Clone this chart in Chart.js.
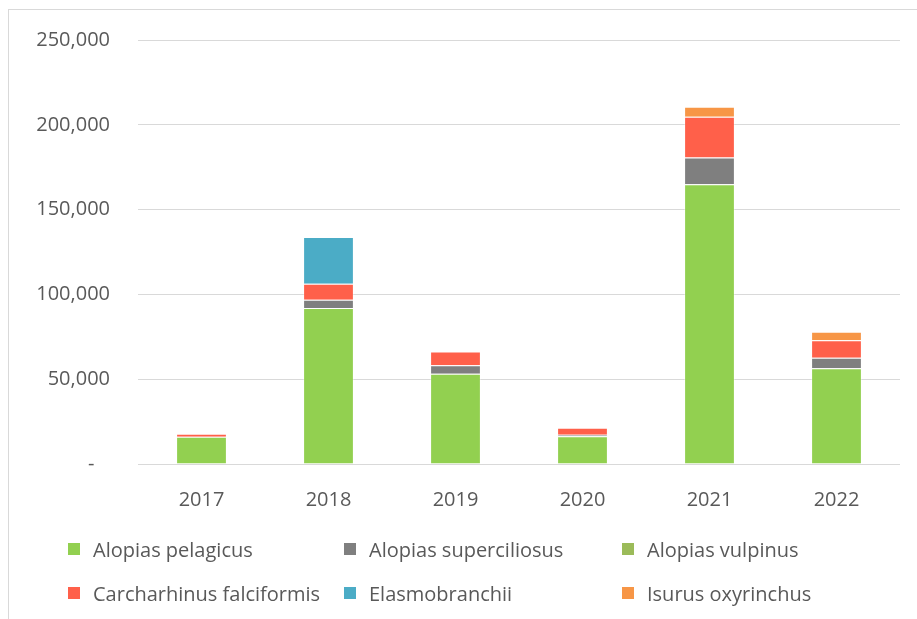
<!DOCTYPE html>
<html>
<head>
<meta charset="utf-8">
<script src="https://cdn.jsdelivr.net/npm/chart.js@4"></script>
<style>
  body { margin: 0; background: #fff; font-family: "Open Sans", sans-serif; }
  #frame { position: absolute; left: 8px; top: 9px; width: 930px; height: 640px; border: 1px solid #d9d9d9; }
  #wrap { position: absolute; left: 0; top: 0; width: 917px; height: 540px; }
  #legend { position: absolute; left: 0; top: 0; width: 917px; height: 619px; pointer-events: none; }
  .item { position: absolute; display: flex; align-items: center; font-size: 20px; color: #595959; white-space: nowrap; }
  .box { width: 12px; height: 12px; margin-right: 13px; }
</style>
</head>
<body>
<div id="frame"></div>
<div id="wrap"><canvas id="chart" width="917" height="540"></canvas></div>
<div id="legend"></div>
<script>
const years = ['2017', '2018', '2019', '2020', '2021', '2022'];
const alopiasPelagicus = [16000, 92000, 53200, 16300, 165000, 56400];
const alopiasSuperciliosus = [0, 4900, 5000, 1000, 15700, 6300];
const alopiasVulpinus = [0, 0, 0, 0, 0, 0];
const carcharhinusFalciformis = [1800, 9400, 8200, 4100, 24000, 10200];
const elasmobranchii = [0, 27500, 0, 0, 0, 0];
const isurusOxyrinchus = [0, 0, 0, 0, 5900, 5100];
const yTicks = [0, 50000, 100000, 150000, 200000, 250000];

const series = [
  { label: 'Alopias pelagicus', data: alopiasPelagicus, color: '#92d050' },
  { label: 'Alopias superciliosus', data: alopiasSuperciliosus, color: '#7f7f7f' },
  { label: 'Alopias vulpinus', data: alopiasVulpinus, color: '#9bbb59' },
  { label: 'Carcharhinus falciformis', data: carcharhinusFalciformis, color: '#ff604a' },
  { label: 'Elasmobranchii', data: elasmobranchii, color: '#4bacc6' },
  { label: 'Isurus oxyrinchus', data: isurusOxyrinchus, color: '#f79646' }
];

const chart = new Chart('chart', {
  type: 'bar',
  data: {
    labels: years,
    datasets: series.map(s => ({
      label: s.label,
      data: s.data,
      backgroundColor: s.color,
      borderColor: 'rgba(255,255,255,0.35)',
      borderWidth: 1,
      barPercentage: 0.4,
      categoryPercentage: 1
    }))
  },
  options: {
    responsive: false,
    animation: false,
    layout: { padding: { top: 30, right: 17, bottom: 12, left: 0 } },
    plugins: { legend: { display: false }, tooltip: { enabled: false } },
    scales: {
      x: {
        stacked: true,
        grid: { display: false },
        border: { display: false },
        ticks: { color: '#595959', font: { family: 'Open Sans', size: 20 }, padding: 16 }
      },
      y: {
        stacked: true,
        min: 0,
        max: 250000,
        afterFit: function(scale) { scale.width = 138; },
        afterBuildTicks: function(scale) { scale.ticks = yTicks.map(v => ({ value: v })); },
        grid: { color: '#d9d9d9', drawTicks: false },
        border: { display: false },
        ticks: {
          color: '#595959',
          font: { family: 'Open Sans', size: 20 },
          padding: 28,
          callback: function(value) {
            if (value === 0) return '-   ';
            return value.toLocaleString('en-US');
          }
        }
      }
    }
  }
});

// legend laid out in the same 3-column grid as the original
const legend = document.getElementById('legend');
const colX = [68, 344, 622];
const rowY = [549, 593];
series.forEach((s, i) => {
  const el = document.createElement('div');
  el.className = 'item';
  el.style.left = colX[i % 3] + 'px';
  el.style.top = (rowY[Math.floor(i / 3)] - 14) + 'px';
  el.style.height = '28px';
  el.innerHTML = '<span class="box" style="background:' + s.color + '"></span>' + s.label;
  legend.appendChild(el);
});
</script>
</body>
</html>
